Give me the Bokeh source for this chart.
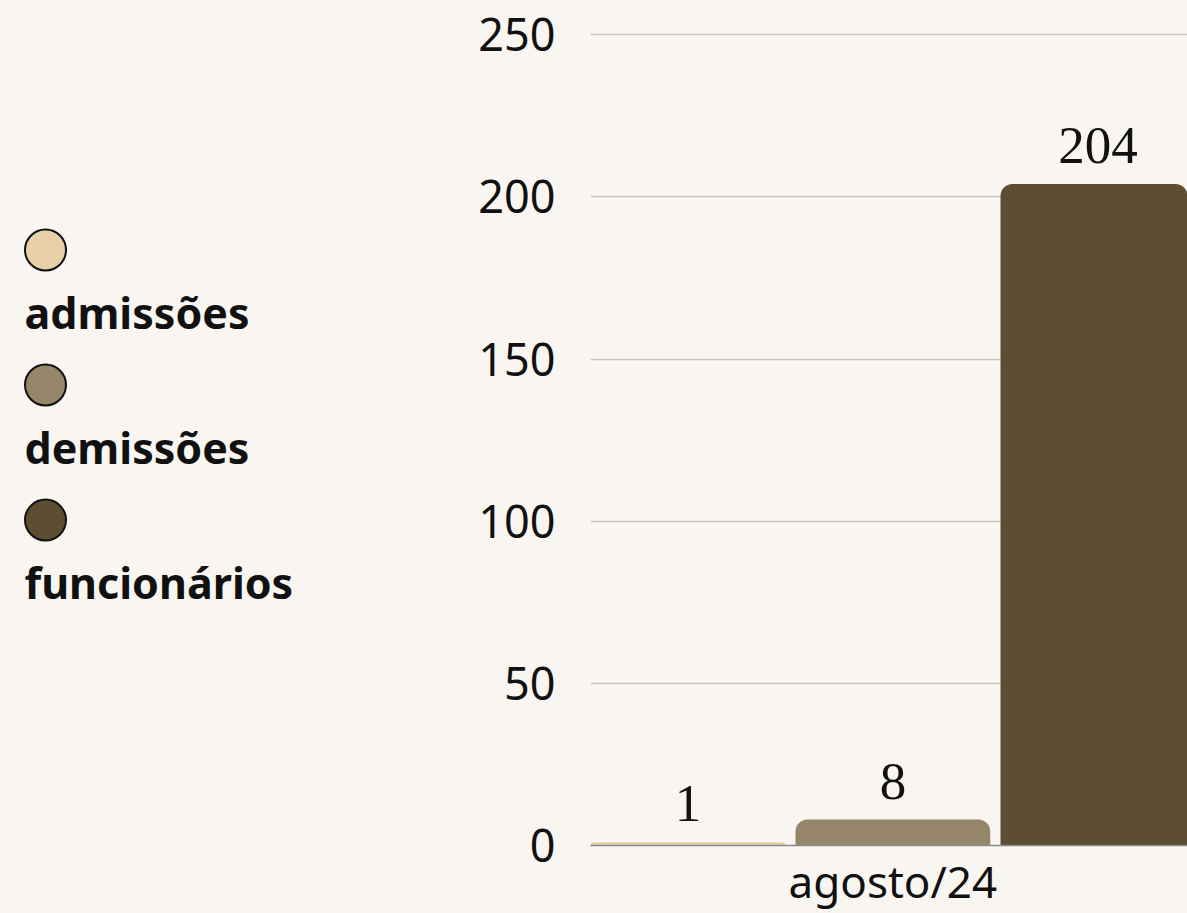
from bokeh.plotting import figure
from bokeh.layouts import row
from bokeh.models import Range1d, FixedTicker, ColumnDataSource
from bokeh.core.properties import value
from bokeh.embed import file_html
from bokeh.resources import INLINE

# ---- data ----
series = ["admissões", "demissões", "funcionários"]
values = [1, 8, 204]
colors = ["#e8d0a8", "#958669", "#5c4d33"]
month_label = "agosto/24"
y_ticks = [0, 50, 100, 150, 200, 250]

BG = "#f9f6f1"
H = 913
W = 1187

# ---- legend figure ----
LW = 442
leg = figure(width=LW, height=H, output_backend="svg", toolbar_location=None,
             x_range=Range1d(0, LW), y_range=Range1d(H, 0),
             min_border=0, outline_line_color=None,
             background_fill_color=BG, border_fill_color=BG)
leg.axis.visible = False
leg.grid.visible = False
n = len(series)
circ_y = [245 + i * 151.5 for i in range(n)]
lab_y = [y + 70 for y in circ_y]
leg.scatter(x=[45] * n, y=circ_y, size=41, marker="circle", fill_color=colors,
            line_color="#111111", line_width=2)
leg.text(x=[24] * n, y=lab_y, text=series, text_font=value("Noto Sans"),
         text_font_style="bold", text_font_size="43px", text_color="#111111",
         text_baseline="middle", text_align="left")

# ---- chart figure ----
CW = W - LW
xs = [0.5 + i for i in range(n)]
src = ColumnDataSource(dict(x=xs, top=values, color=colors,
                            label=[str(v) for v in values]))
p = figure(width=CW, height=H, output_backend="svg", toolbar_location=None,
           x_range=Range1d(0.025, 0.025 + 597 / 205), y_range=Range1d(0, 251),
           min_border_left=590 - LW, min_border_right=0,
           min_border_top=31, min_border_bottom=68,
           outline_line_color=None,
           background_fill_color=BG, border_fill_color=BG)
p.vbar(x="x", top="top", width=0.95, bottom=0, fill_color="color",
       line_color=None, source=src, border_radius=(12, 12, 0, 0))
p.text(x="x", y="top", text="label", source=src,
       text_font=value("Liberation Serif"), text_font_size="53px",
       text_color="#111111", text_align="center", text_baseline="bottom",
       y_offset=-21)

p.xgrid.visible = False
p.ygrid.grid_line_color = "#c8c5bf"
p.ygrid.grid_line_width = 1.3
p.ygrid.ticker = FixedTicker(ticks=y_ticks)

p.yaxis.ticker = FixedTicker(ticks=y_ticks)
p.yaxis.axis_line_color = None
p.yaxis.major_tick_line_color = None
p.yaxis.minor_tick_line_color = None
p.yaxis.major_tick_out = 0
p.yaxis.major_tick_in = 0
p.yaxis.major_label_text_font = "Noto Sans"
p.yaxis.major_label_text_font_size = "45px"
p.yaxis.major_label_text_color = "#111111"
p.yaxis.major_label_standoff = 35

p.xaxis.ticker = FixedTicker(ticks=[xs[1]])
p.xaxis.major_label_overrides = {xs[1]: month_label}
p.xaxis.axis_line_color = "#8a8a8a"
p.xaxis.axis_line_width = 1.3
p.xaxis.major_tick_line_color = None
p.xaxis.minor_tick_line_color = None
p.xaxis.major_tick_out = 0
p.xaxis.major_tick_in = 0
p.xaxis.major_label_text_font = "Noto Sans"
p.xaxis.major_label_text_font_size = "44px"
p.xaxis.major_label_text_color = "#111111"
p.xaxis.major_label_standoff = 5

layout = row(leg, p, spacing=0, styles={"background-color": BG})
html = file_html(layout, INLINE)
html = html.replace("<body>", f'<body style="background-color:{BG};">')
open("out.html", "w").write(html)
